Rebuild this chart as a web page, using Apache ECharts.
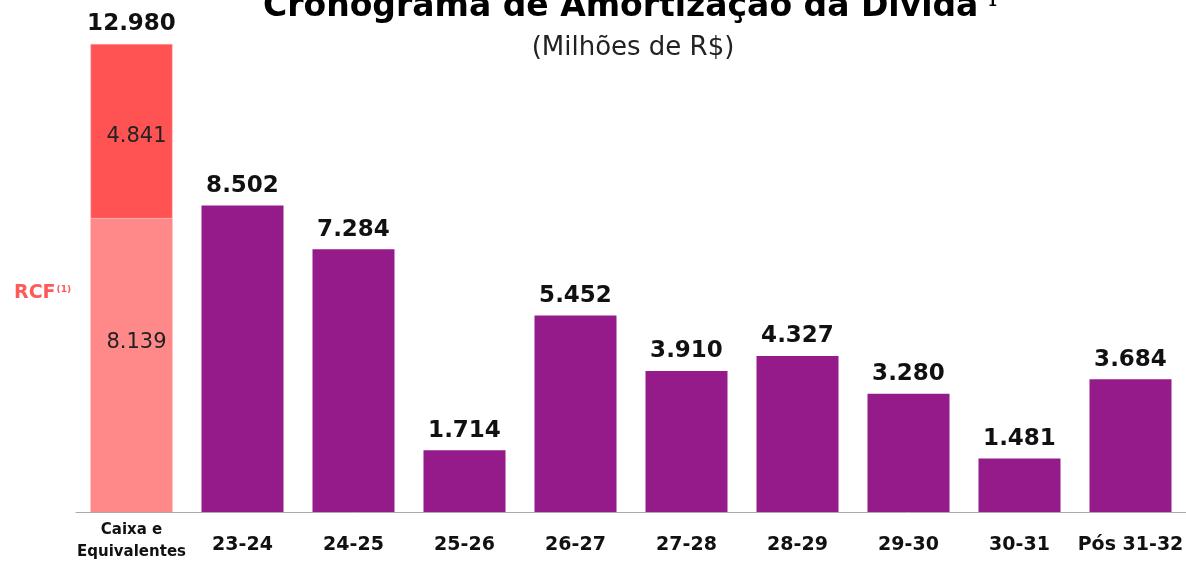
<!DOCTYPE html>
<html>
<head>
<meta charset="utf-8">
<script src="https://cdn.jsdelivr.net/npm/echarts@6/dist/echarts.min.js"></script>
<style>
  html, body { margin: 0; padding: 0; background: #fff; }
  #chart { width: 1186px; height: 561px; }
</style>
</head>
<body>
<div id="chart"></div>
<script>
// categorias do eixo x
const categories = ['Caixa e\nEquivalentes', '23-24', '24-25', '25-26', '26-27', '27-28', '28-29', '29-30', '30-31', 'Pós 31-32']
// caixa e equivalentes (parte de baixo) e RCF (parte de cima)
const caixaValues = [8139, '-', '-', '-', '-', '-', '-', '-', '-', '-']
const rcfValues = [4841, '-', '-', '-', '-', '-', '-', '-', '-', '-']
// amortizacao por periodo
const amortValues = ['-', 8502, 7284, 1714, 5452, 3910, 4327, 3280, 1481, 3684]
const totalValues = [12980, '-', '-', '-', '-', '-', '-', '-', '-', '-']

const fmt = v => (v / 1000).toFixed(3)
const font = 'DejaVu Sans'

const chart = echarts.init(document.getElementById('chart'))

const option = {
  animation: false,
  grid: { left: 76, right: 0, top: 44, bottom: 49, outerBoundsMode: 'none' },
  xAxis: {
    type: 'category',
    data: categories,
    axisTick: { show: false },
    axisLine: { lineStyle: { color: '#aaaaaa', width: 1 } },
    axisLabel: {
      interval: 0,
      margin: 33,
      verticalAlign: 'middle',
      color: '#111',
      fontFamily: font,
      fontWeight: 'bold',
      fontSize: 19,
      formatter: (v, i) => i === 0 ? '{s|' + v + '}' : v,
      rich: {
        s: { fontSize: 15, fontWeight: 'bold', fontFamily: font, lineHeight: 22, color: '#111', padding: [0, 0, 8, 0] }
      }
    }
  },
  yAxis: {
    type: 'value',
    min: 0,
    max: 12980,
    show: false,
    splitLine: { show: false }
  },
  series: [
    {
      type: 'bar',
      stack: 'a',
      barWidth: 82,
      data: caixaValues,
      itemStyle: { color: '#ff8989' },
      label: {
        show: true,
        position: 'inside',
        offset: [5, -23],
        formatter: p => fmt(p.value),
        color: '#222',
        fontFamily: font,
        fontSize: 21
      }
    },
    {
      type: 'bar',
      stack: 'a',
      barWidth: 82,
      data: rcfValues,
      itemStyle: { color: '#ff5353', borderColor: '#ffb0b0', borderWidth: 0.5 },
      label: {
        show: true,
        position: 'inside',
        offset: [5, 5],
        formatter: p => fmt(p.value),
        color: '#222',
        fontFamily: font,
        fontSize: 21
      }
    },
    {
      type: 'bar',
      stack: 'a',
      barWidth: 82,
      data: amortValues,
      itemStyle: { color: '#951b8b' },
      label: {
        show: true,
        position: 'top',
        distance: 8,
        formatter: p => fmt(p.value),
        color: '#111',
        fontFamily: font,
        fontWeight: 'bold',
        fontSize: 23
      }
    },
    {
      // so para o rotulo do total
      type: 'bar',
      stack: 'a',
      barWidth: 82,
      data: totalValues.map(v => v === '-' ? '-' : 0),
      itemStyle: { color: 'transparent' },
      label: {
        show: true,
        position: 'top',
        distance: 8,
        formatter: p => fmt(totalValues[p.dataIndex]),
        color: '#111',
        fontFamily: font,
        fontWeight: 'bold',
        fontSize: 23
      }
    }
  ],
  graphic: [
    {
      type: 'text',
      x: 263,
      y: 24,
      style: {
        text: 'Cronograma de Amortização da Dívida',
        fontFamily: font,
        fontWeight: 'bold',
        fontSize: 33,
        fill: '#000',
        align: 'left',
        verticalAlign: 'bottom'
      }
    },
    {
      type: 'text',
      x: 988,
      y: 9,
      style: {
        text: '1',
        fontFamily: font,
        fontWeight: 'bold',
        fontSize: 13,
        fill: '#000',
        align: 'left',
        verticalAlign: 'bottom'
      }
    },
    {
      type: 'text',
      x: 633,
      y: 48,
      style: {
        text: '(Milhões de R$)',
        fontFamily: font,
        fontSize: 26,
        fill: '#222',
        align: 'center',
        verticalAlign: 'middle'
      }
    },
    {
      type: 'text',
      x: 14,
      y: 293,
      style: {
        text: '{r|RCF}{s|(1)}',
        verticalAlign: 'middle',
        rich: {
          r: { fontFamily: font, fontWeight: 'bold', fontSize: 19, fill: '#ff5a5a' },
          s: { fontFamily: font, fontWeight: 'bold', fontSize: 9, fill: '#ff5a5a', padding: [0, 0, 6, 1] }
        }
      }
    }
  ]
}

chart.setOption(option)
</script>
</body>
</html>
